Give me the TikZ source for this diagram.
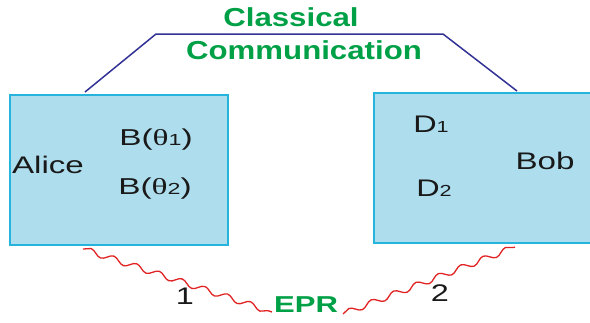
\documentclass[tikz,border=0pt]{standalone}
\usepackage{fontspec}
\setmainfont{Liberation Sans}
\newfontfamily\thetafont{Liberation Serif}
\usetikzlibrary{decorations.pathmorphing}
\definecolor{boxfill}{RGB}{174,222,238}
\definecolor{boxline}{RGB}{38,180,220}
\definecolor{linkblue}{RGB}{50,50,150}
\definecolor{eprred}{RGB}{225,35,35}
\definecolor{titlegreen}{RGB}{0,160,70}
\newcommand{\wide}[2][1.35]{\scalebox{#1}[1]{#2}}
\newcommand{\smallsub}[1]{{\fontsize{16}{16}\selectfont #1}}
\begin{document}
\begin{tikzpicture}[x=1pt,y=-1pt,
  box/.style={draw=boxline, fill=boxfill, line width=1.8pt, minimum width=218pt, minimum height=150pt, inner sep=0pt},
  lbl/.style={font=\fontsize{24}{24}\selectfont, inner sep=0pt, text=black!90},
  ttl/.style={font=\fontsize{26}{26}\selectfont\bfseries, inner sep=0pt, text=titlegreen},
  link/.style={draw=linkblue, line width=1.5pt},
  wave/.style={draw=eprred, line width=1.3pt, decorate, decoration={snake, segment length=24pt, amplitude=3pt}}]
\useasboundingbox (0,0) rectangle (590,322);
\node[box] (alice) at (119,170) {};
\node[box, minimum width=222pt] (bob) at (485,168) {};
% classical channel
\coordinate (a1) at (85,92);
\coordinate (c1) at (156,34);
\coordinate (c2) at (443,34);
\coordinate (b1) at (517,91);
\draw[link] (a1) -- (c1) -- (c2) -- (b1);
\node[ttl] (classical) at (291,17) {\wide[1.2]{Classical}};
\node[ttl] (comm) at (304,50) {\wide[1.2]{Communication}};
% texts in boxes
\node[lbl] (alicetxt) at (48,165) {\wide[1.38]{Alice}};
\node[lbl, font=\fontsize{23}{23}\selectfont] (b1txt) at (156,140) {\wide[1.45]{B({\thetafont θ}\smallsub{1})}};
\node[lbl, font=\fontsize{23}{23}\selectfont] (b2txt) at (155,189) {\wide[1.45]{B({\thetafont θ}\smallsub{2})}};
\node[lbl] (d1txt) at (431,124) {\wide[1.35]{D\smallsub{1}}};
\node[lbl] (d2txt) at (434,188) {\wide[1.35]{D\smallsub{2}}};
\node[lbl] (bobtxt) at (545,161) {\wide[1.38]{Bob}};
% EPR
\coordinate (w1) at (83,249);
\coordinate (w2) at (272,312);
\coordinate (w3) at (343,314);
\coordinate (w4) at (515,247);
\draw[wave] (w1) -- (w2);
\draw[wave] (w3) -- (w4);
\node[lbl] (one) at (185,296) {\wide{1}};
\node[lbl] (two) at (440,293) {\wide{2}};
\node[ttl, font=\fontsize{23}{23}\selectfont\bfseries] (epr) at (306,305) {\wide{EPR}};
\end{tikzpicture}
\end{document}
